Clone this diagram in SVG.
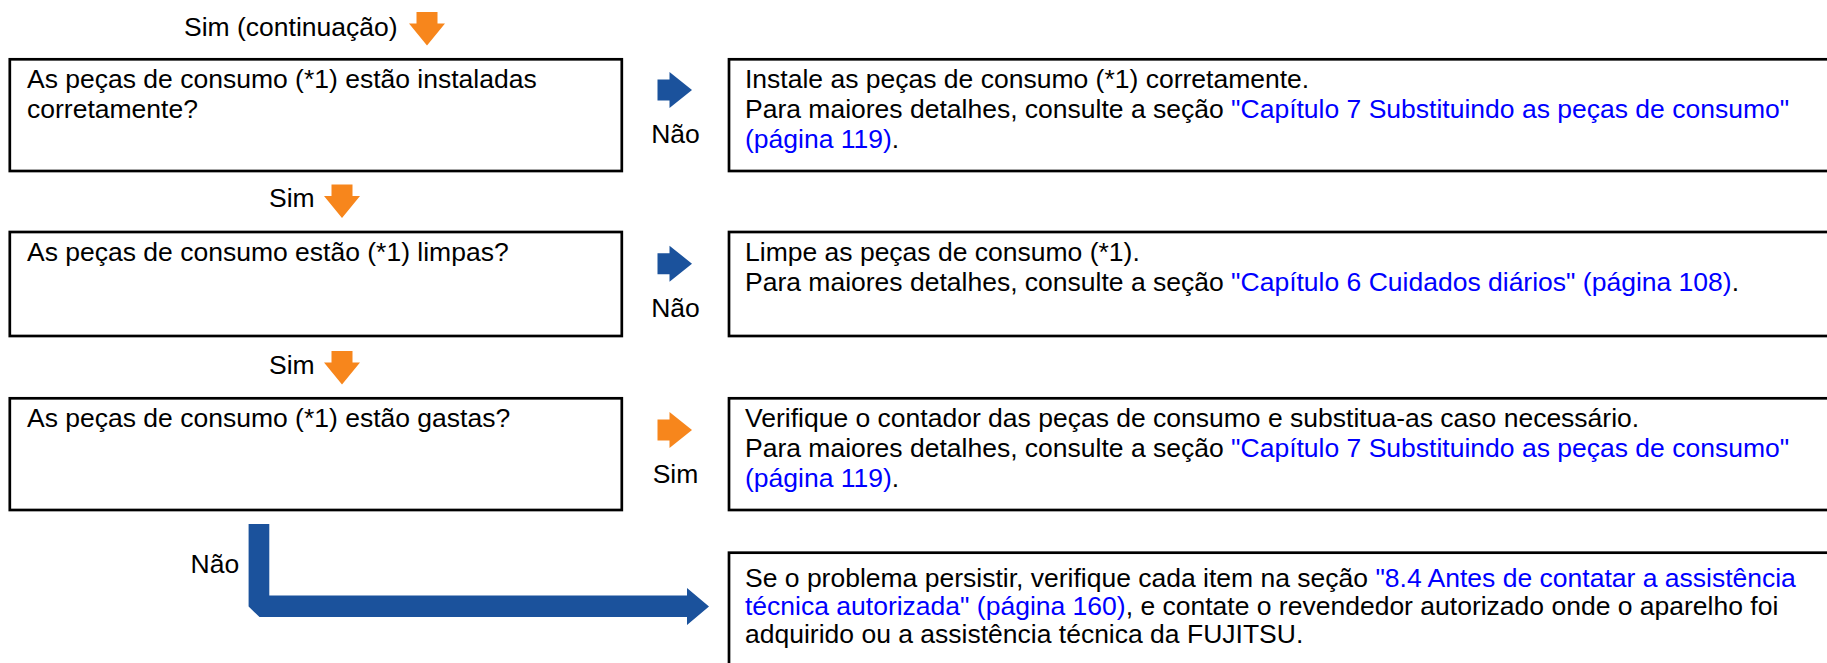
<svg xmlns="http://www.w3.org/2000/svg" width="1827" height="663" viewBox="0 0 1827 663">
  <style>
    .box { fill: #ffffff; stroke: #000000; stroke-width: 2.7; }
    text { font-family: "Liberation Sans", Arial, sans-serif; font-size: 26.5px; fill: #000000; }
    .lnk { fill: #0000ff; }
    .lbl { text-anchor: middle; }
    .blue { fill: #1b529c; }
    .orange { fill: #f7861c; }
  </style>
  <defs>
    <path id="arrowDown" d="M7.5,0 H28.5 V11.5 H36 L18,33.5 L0,11.5 H7.5 Z"/>
    <path id="arrowRight" d="M0,7.5 H12 V0 L34.5,18 L12,36 V28.5 H0 Z"/>
  </defs>
  <rect width="1827" height="663" fill="#ffffff"/>

  <g id="q1">
    <rect class="box" x="9.8" y="59.3" width="612" height="111.7"/>
    <text x="27" y="88">As peças de consumo (*1) estão instaladas</text>
    <text x="27" y="118">corretamente?</text>
  </g>
  <g id="a1">
    <rect class="box" x="729" y="59.3" width="1110" height="111.7"/>
    <text x="745" y="88">Instale as peças de consumo (*1) corretamente.</text>
    <text x="745" y="118">Para maiores detalhes, consulte a seção <tspan class="lnk">"Capítulo 7 Substituindo as peças de consumo"</tspan></text>
    <text x="745" y="148"><tspan class="lnk">(página 119)</tspan>.</text>
  </g>

  <g id="q2">
    <rect class="box" x="9.8" y="232" width="612" height="104"/>
    <text x="27" y="261">As peças de consumo estão (*1) limpas?</text>
  </g>
  <g id="a2">
    <rect class="box" x="729" y="232" width="1110" height="104"/>
    <text x="745" y="261">Limpe as peças de consumo (*1).</text>
    <text x="745" y="291">Para maiores detalhes, consulte a seção <tspan class="lnk">"Capítulo 6 Cuidados diários" (página 108)</tspan>.</text>
  </g>

  <g id="q3">
    <rect class="box" x="9.8" y="398.3" width="612" height="111.7"/>
    <text x="27" y="427">As peças de consumo (*1) estão gastas?</text>
  </g>
  <g id="a3">
    <rect class="box" x="729" y="398.3" width="1110" height="111.7"/>
    <text x="745" y="427">Verifique o contador das peças de consumo e substitua-as caso necessário.</text>
    <text x="745" y="457">Para maiores detalhes, consulte a seção <tspan class="lnk">"Capítulo 7 Substituindo as peças de consumo"</tspan></text>
    <text x="745" y="487"><tspan class="lnk">(página 119)</tspan>.</text>
  </g>

  <g id="a4">
    <rect class="box" x="729" y="552.7" width="1110" height="130"/>
    <text x="745" y="587">Se o problema persistir, verifique cada item na seção <tspan class="lnk">"8.4 Antes de contatar a assistência</tspan></text>
    <text x="745" y="615"><tspan class="lnk">técnica autorizada" (página 160)</tspan>, e contate o revendedor autorizado onde o aparelho foi</text>
    <text x="745" y="643">adquirido ou a assistência técnica da FUJITSU.</text>
  </g>

  <g id="connectors">
    <text x="184" y="36">Sim (continuação)</text>
    <use href="#arrowDown" class="orange" x="409" y="12"/>

    <use href="#arrowRight" class="blue" x="657.5" y="72"/>
    <text class="lbl" x="675.5" y="143">Não</text>

    <text x="269" y="207">Sim</text>
    <use href="#arrowDown" class="orange" x="324" y="184.5"/>

    <use href="#arrowRight" class="blue" x="657.5" y="245.7"/>
    <text class="lbl" x="675.5" y="316.7">Não</text>

    <text x="269" y="374">Sim</text>
    <use href="#arrowDown" class="orange" x="324" y="351"/>

    <use href="#arrowRight" class="orange" x="657.5" y="412"/>
    <text class="lbl" x="675.5" y="483">Sim</text>

    <text x="190.5" y="573">Não</text>
    <path class="blue" d="M248.6,524 H269.3 V595.5 H687 V588 L709,606.5 L687,625 V617 H259.5 L248.6,606.5 Z"/>
  </g>
</svg>
